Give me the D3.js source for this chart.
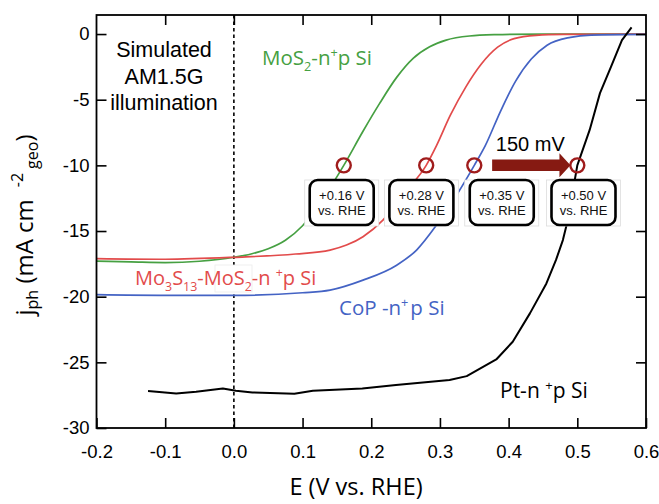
<!DOCTYPE html>
<html>
<head>
<meta charset="utf-8">
<script src="https://cdn.jsdelivr.net/npm/d3@7"></script>
<style>
  body { margin: 0; background: #fff; }
  svg { display: block; }
</style>
</head>
<body>
<svg id="chart" width="659" height="504"></svg>
<script>
// ---- photocurrent density vs potential (V vs. RHE) ----
const mos2E  = [-0.2, -0.15, -0.1, -0.05, 0.0, 0.025, 0.05, 0.075, 0.1, 0.13, 0.16, 0.188, 0.212, 0.237, 0.261, 0.285, 0.309, 0.343, 0.38, 0.45, 0.6];
const mos2J  = [-17.3, -17.35, -17.4, -17.3, -17.0, -16.75, -16.35, -15.7, -14.6, -12.5, -10.0, -7.4, -5.3, -3.3, -1.85, -0.97, -0.46, -0.15, -0.05, 0, 0];

const mo3s13E = [-0.2, -0.1, 0.0, 0.09, 0.14, 0.164, 0.188, 0.217, 0.25, 0.28, 0.295, 0.315, 0.338, 0.36, 0.384, 0.408, 0.44, 0.48, 0.6];
const mo3s13J = [-17.1, -17.15, -17.0, -16.75, -16.45, -16.07, -15.43, -14.17, -12.0, -10.0, -8.5, -6.2, -4.0, -2.3, -1.0, -0.35, -0.1, -0.03, 0];

const copE = [-0.2, -0.1, 0.0, 0.1, 0.14, 0.188, 0.237, 0.266, 0.295, 0.325, 0.35, 0.366, 0.388, 0.41, 0.433, 0.456, 0.49, 0.52, 0.6];
const copJ = [-19.85, -19.9, -19.9, -19.7, -19.5, -18.74, -17.6, -16.45, -14.55, -12.2, -10.0, -8.5, -5.9, -3.6, -1.9, -0.85, -0.25, -0.08, -0.03];

const ptE = [-0.125, -0.084, -0.055, -0.016, 0.003, 0.027, 0.088, 0.115, 0.187, 0.236, 0.314, 0.339, 0.382, 0.406, 0.431, 0.455, 0.469, 0.479, 0.486, 0.50, 0.518, 0.533, 0.549, 0.565, 0.579];
const ptJ = [-27.19, -27.37, -27.24, -26.99, -27.17, -27.29, -27.4, -27.17, -26.99, -26.73, -26.35, -26.05, -24.78, -23.43, -21.27, -18.99, -17.2, -15.69, -14.2, -10.0, -7.3, -4.5, -2.5, -0.46, 0.51];

// ---- axes ----
const xTicks = [-0.2, -0.1, 0.0, 0.1, 0.2, 0.3, 0.4, 0.5, 0.6];
const xTickLabels = ["-0.2", "-0.1", "0.0", "0.1", "0.2", "0.3", "0.4", "0.5", "0.6"];
const yTicks = [0, -5, -10, -15, -20, -25, -30];
const yTickLabels = ["0", "-5", "-10", "-15", "-20", "-25", "-30"];

// ---- onset potentials at -10 mA cm^-2 ----
const onsetE = [0.16, 0.28, 0.35, 0.50];
const onsetJ = -10;
const boxCenterE = [0.157, 0.273, 0.39, 0.509];
const shiftArrowE = [0.376, 0.49];

const svg = d3.select("#chart");
const L = 96.5, R = 646, T = 15, B = 428;
const x = d3.scaleLinear().domain([-0.2, 0.6]).range([L, R]);
const y = d3.scaleLinear().domain([-30, 1.45]).range([B, T]);

const axisFont = "'Liberation Sans', Arial, sans-serif";
const labelFont = "'Open Sans', 'Noto Sans', sans-serif";

const zip = (a, b) => a.map((v, i) => [v, b[i]]);
const smooth = d3.line().x(d => x(d[0])).y(d => y(d[1])).curve(d3.curveMonotoneX);
const straight = d3.line().x(d => x(d[0])).y(d => y(d[1]));

const series = [
  { pts: zip(mos2E, mos2J), color: "#46a042", gen: smooth, w: 1.7 },
  { pts: zip(mo3s13E, mo3s13J), color: "#e24b4b", gen: smooth, w: 1.7 },
  { pts: zip(copE, copJ), color: "#4463c4", gen: smooth, w: 1.7 },
  { pts: zip(ptE, ptJ), color: "#000", gen: straight, w: 2 }
];

const plot = svg.append("g");
plot.append("defs").append("clipPath").attr("id", "clip")
  .append("rect").attr("x", L).attr("y", 0).attr("width", R - L).attr("height", B);

// zero-potential marker
plot.append("line")
  .attr("x1", x(0)).attr("x2", x(0)).attr("y1", T).attr("y2", B)
  .attr("stroke", "#000").attr("stroke-width", 1.6).attr("stroke-dasharray", "3.5,3");

const curves = plot.append("g").attr("clip-path", "url(#clip)");
series.forEach(s => {
  curves.append("path").attr("d", s.gen(s.pts))
    .attr("fill", "none").attr("stroke", s.color).attr("stroke-width", s.w)
    .attr("stroke-linejoin", "round");
});

// frame
svg.append("rect").attr("x", L).attr("y", T).attr("width", R - L).attr("height", B - T)
  .attr("fill", "none").attr("stroke", "#000").attr("stroke-width", 1.8);

// axes with inward ticks
const styleAxis = g => {
  g.select(".domain").remove();
  g.selectAll(".tick line").attr("stroke", "#000").attr("stroke-width", 1.6);
  g.selectAll(".tick text").attr("font-family", axisFont).attr("font-size", 18.5).attr("fill", "#000");
};
svg.append("g").attr("transform", `translate(0,${B})`)
  .call(d3.axisBottom(x).tickValues(xTicks).tickSize(-10).tickPadding(17)
    .tickFormat((d, i) => xTickLabels[i]))
  .call(styleAxis);
svg.append("g").attr("transform", `translate(0,${T})`)
  .call(d3.axisTop(x).tickValues(xTicks.slice(1, -1)).tickSize(-10).tickFormat(""))
  .call(styleAxis);
svg.append("g").attr("transform", `translate(${L},0)`)
  .call(d3.axisLeft(y).tickValues(yTicks).tickSize(-10).tickPadding(7)
    .tickFormat((d, i) => yTickLabels[i]))
  .call(styleAxis);
svg.append("g").attr("transform", `translate(${R},0)`)
  .call(d3.axisRight(y).tickValues(yTicks.slice(0, -1)).tickSize(-10).tickFormat(""))
  .call(styleAxis);
svg.selectAll(".tick text").attr("fill", "#000");

// axis titles
svg.append("text").attr("x", 356).attr("y", 495).attr("text-anchor", "middle")
  .attr("font-family", labelFont).attr("font-size", 23.5).attr("fill", "#000")
  .text("E (V vs. RHE)");

const yTitle = svg.append("text")
  .attr("transform", "translate(33,225) rotate(-90)")
  .attr("text-anchor", "middle").attr("font-family", labelFont).attr("font-size", 24).attr("fill", "#000");
yTitle.append("tspan").text("j");
yTitle.append("tspan").attr("font-size", 16).attr("dy", 5).text("ph");
yTitle.append("tspan").attr("dy", -5).text(" (mA cm");
yTitle.append("tspan").attr("font-size", 16).attr("dx", 12).attr("dy", -10).text("-2");
yTitle.append("tspan").attr("font-size", 16).attr("dx", 4).attr("dy", 15).text("geo");
yTitle.append("tspan").attr("dy", -5).text(")");

// illumination note
const note = svg.append("text").attr("font-family", axisFont).attr("font-size", 21.5)
  .attr("text-anchor", "middle").attr("fill", "#000");
["Simulated", "AM1.5G", "illumination"].forEach((t, i) => {
  note.append("tspan").attr("x", 164).attr("y", 57 + i * 26.6).text(t);
});

// series labels with sub/superscripts
function richLabel(parts, px, py, color, size) {
  const t = svg.append("text").attr("x", px).attr("y", py)
    .attr("font-family", labelFont).attr("font-size", size).attr("fill", color);
  let shift = 0;
  parts.forEach(([txt, kind, dx]) => {
    const target = kind === "sub" ? size * 0.28 : kind === "sup" ? -size * 0.38 : 0;
    const sp = t.append("tspan").attr("dy", target - shift).text(txt);
    if (kind) sp.attr("font-size", size * 0.62);
    if (dx) sp.attr("dx", dx);
    shift = target;
  });
  return t;
}

// white patch under the Mo3S13 label
svg.append("rect").attr("x", 215).attr("y", 265).attr("width", 37).attr("height", 27)
  .attr("fill", "#fff").attr("stroke", "#ececec").attr("stroke-width", 0.8);

richLabel([["MoS"], ["2", "sub"], ["-n"], ["+", "sup"], ["p Si"]], 262, 65, "#46a042", 20.5);
richLabel([["Mo"], ["3", "sub"], ["S"], ["13", "sub"], ["-MoS"], ["2", "sub"], ["-n "], ["+", "sup"], ["p Si"]], 135, 285, "#e24b4b", 20);
richLabel([["CoP -n"], ["+", "sup"], ["p Si", null, 2]], 339, 315, "#4463c4", 20.5);
richLabel([["Pt-n "], ["+", "sup"], ["p Si"]], 500, 398, "#000", 21);

// onset circles
svg.append("g").selectAll("circle").data(onsetE).join("circle")
  .attr("cx", d => x(d)).attr("cy", y(onsetJ)).attr("r", 7)
  .attr("fill", "none").attr("stroke", "#a01c1c").attr("stroke-width", 2.4);

// onset value boxes
const boxW = 64, boxH = 45, boxTop = 180;
const boxes = svg.append("g").selectAll("g").data(onsetE).join("g")
  .attr("transform", (d, i) => `translate(${x(boxCenterE[i])},${boxTop})`);
boxes.append("rect").attr("x", -boxW / 2 - 5).attr("y", 0).attr("width", boxW + 10).attr("height", boxH + 1)
  .attr("fill", "#fff").attr("stroke", "#dcdcdc").attr("stroke-width", 0.8);
boxes.append("rect").attr("x", -boxW / 2).attr("y", 0).attr("width", boxW).attr("height", boxH)
  .attr("rx", 8).attr("fill", "#fff").attr("stroke", "#000").attr("stroke-width", 2.6);
boxes.append("text").attr("y", 20).attr("text-anchor", "middle")
  .attr("font-family", axisFont).attr("font-size", 13).attr("fill", "#111")
  .text(d => "+" + d3.format(".2f")(d) + " V");
boxes.append("text").attr("y", 35).attr("text-anchor", "middle")
  .attr("font-family", axisFont).attr("font-size", 13).attr("fill", "#111")
  .text("vs. RHE");

// 150 mV shift arrow
const ax0 = x(shiftArrowE[0]), ax1 = x(shiftArrowE[1]), ay = y(onsetJ);
const headL = 11, bodyH = 11.5, headH = 24;
svg.append("path")
  .attr("d", `M${ax0},${ay - bodyH / 2} L${ax1 - headL},${ay - bodyH / 2} L${ax1 - headL},${ay - headH / 2} L${ax1},${ay} L${ax1 - headL},${ay + headH / 2} L${ax1 - headL},${ay + bodyH / 2} L${ax0},${ay + bodyH / 2} Z`)
  .attr("fill", "#861a12");
svg.append("text").attr("x", (ax0 + ax1) / 2 - 1).attr("y", 151).attr("text-anchor", "middle")
  .attr("font-family", axisFont).attr("font-size", 20).attr("fill", "#000")
  .text("150 mV");
</script>
</body>
</html>
